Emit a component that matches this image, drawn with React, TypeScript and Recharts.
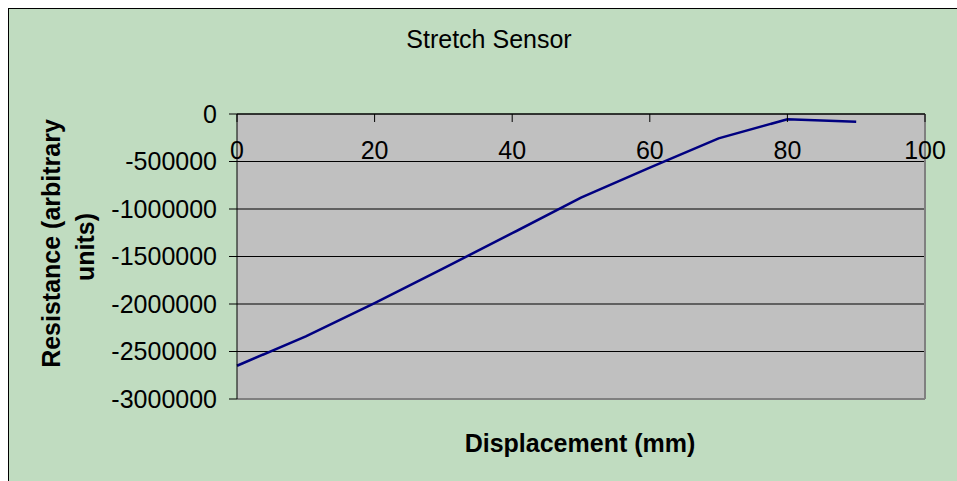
import { LineChart, Line, XAxis, YAxis, CartesianGrid, ReferenceLine } from 'recharts';

const displacement = [0, 10, 20, 30, 40, 50, 60, 70, 80, 90];
const resistance = [-2650000, -2340000, -1990000, -1625000, -1255000, -880000, -565000, -256000, -56000, -81000];
const xTicks = [0, 20, 40, 60, 80, 100];
const yTicks = [-3000000, -2500000, -2000000, -1500000, -1000000, -500000, 0];

const data = displacement.map((x, i) => ({ x, r: resistance[i] }));

const font = "Arial, 'Liberation Sans', sans-serif";

export default function App() {
  return (
    <div
      style={{
        position: 'fixed',
        top: 8,
        left: 8,
        width: 949,
        height: 473,
        boxSizing: 'border-box',
        background: '#C0DCC0',
        borderTop: '1px solid #000',
        borderLeft: '1px solid #000',
      }}
    >
      <LineChart width={948} height={472} data={data} margin={{ top: 105, right: 32, bottom: 82, left: 0 }}>
        <CartesianGrid vertical={false} stroke="#000" fill="#C0C0C0" fillOpacity={1} />
        <ReferenceLine y={-3000000} stroke="#808080" strokeWidth={2} />
        <ReferenceLine x={100} stroke="#808080" strokeWidth={2} />
        <XAxis
          type="number"
          dataKey="x"
          domain={[0, 100]}
          ticks={xTicks}
          interval={0}
          orientation="top"
          mirror
          height={1}
          stroke="#000"
          tickSize={8}
          tickMargin={19}
          tick={{ fill: '#000', fontSize: 25, fontFamily: font }}
        />
        <YAxis
          type="number"
          domain={[-3000000, 0]}
          ticks={yTicks}
          interval={0}
          width={228}
          stroke="#000"
          tickSize={8}
          tickMargin={12}
          tick={{ fill: '#000', fontSize: 25, fontFamily: font }}
        />
        <Line
          type="linear"
          dataKey="r"
          stroke="#000080"
          strokeWidth={2.5}
          dot={false}
          isAnimationActive={false}
        />
      </LineChart>
      <svg
        width={948}
        height={472}
        style={{ position: 'absolute', top: 0, left: 0, pointerEvents: 'none' }}
      >
        <text x={480} y={39} textAnchor="middle" fontSize={25} fontFamily={font} fill="#000">
          Stretch Sensor
        </text>
        <text x={571} y={443} textAnchor="middle" fontSize={25} fontWeight="bold" fontFamily={font} fill="#000">
          Displacement (mm)
        </text>
        <text
          transform="translate(50.5,234.5) rotate(-90)"
          textAnchor="middle"
          fontSize={25}
          fontWeight="bold"
          fontFamily={font}
          fill="#000"
        >
          Resistance (arbitrary
        </text>
        <text
          transform="translate(85,238) rotate(-90)"
          textAnchor="middle"
          fontSize={25}
          fontWeight="bold"
          fontFamily={font}
          fill="#000"
        >
          units)
        </text>
      </svg>
    </div>
  );
}
